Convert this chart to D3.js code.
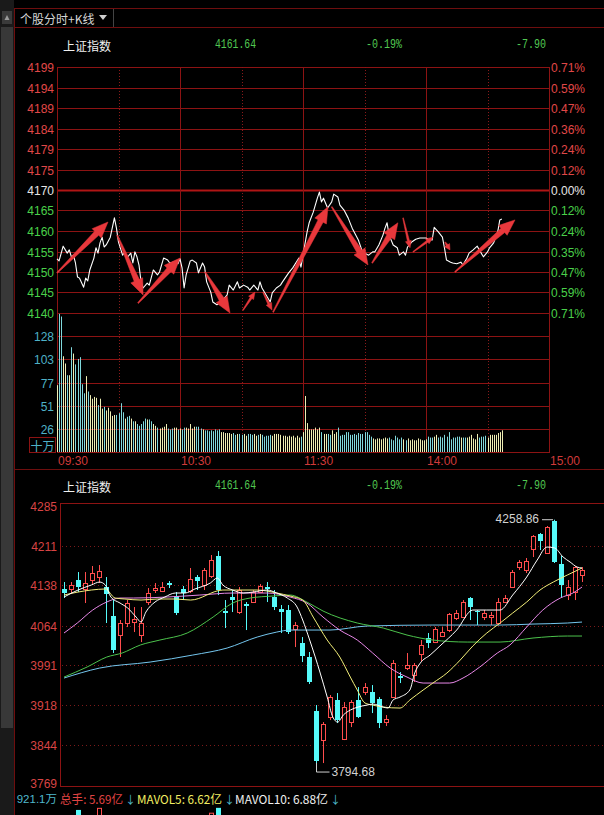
<!DOCTYPE html>
<html><head><meta charset="utf-8">
<script src="https://cdn.jsdelivr.net/npm/d3@7/dist/d3.min.js"></script>
<style>html,body{margin:0;padding:0;background:#000;overflow:hidden}text{font-family:"Liberation Sans",Arial,sans-serif}</style>
</head><body>
<svg id="c" width="604" height="815"></svg>
<script>
// ---------------- DATA ----------------
const indexName = "上证指数";
const headerValues = ["4161.64", "-0.19%", "-7.90"];
// intraday price samples (minutes after 09:30, trading minutes; 120 = 13:00)
const intradayMinutes = [0,1,3,5,6,7,8,9,10,11,13,14,15,16,18,19,20,21,22,23,24,26,28,29,30,32,33,34,36,37,38,39,40,41,42,44,45,47,49,50,52,54,55,57,59,60,61,62,63,65,66,68,69,71,72,73,75,76,78,80,81,83,84,86,88,89,91,93,94,96,98,99,100,102,104,105,107,109,110,113,115,118,119,120,122,123,125,127,128,129,130,132,134,135,137,138,140,142,144,147,149,152,154,155,157,159,160,161,162,164,166,167,169,170,171,173,175,177,180,181,183,184,186,188,189,190,192,193,195,197,198,200,201,203,205,206,208,210,211,213,215,216,217];
const intradayPrices = [4153.2,4152.7,4156.3,4154.6,4155.4,4153.7,4154.1,4152.2,4148.8,4148.5,4146.3,4148.5,4147.8,4150.5,4153.4,4155.9,4154.6,4157.1,4158.5,4156.1,4156.6,4158.5,4163.2,4160.7,4157.3,4154.1,4154.9,4153.4,4154.6,4152.2,4154.9,4153.7,4151.7,4147.6,4146.1,4147.3,4146.8,4150.5,4149.3,4150.0,4153.4,4152.9,4152.2,4152.4,4152.0,4153.2,4151.0,4146.1,4149.3,4152.7,4152.9,4152.2,4149.8,4152.2,4151.2,4147.6,4145.1,4142.7,4142.0,4142.7,4143.2,4144.4,4146.8,4145.6,4147.6,4146.1,4146.8,4146.3,4145.6,4146.8,4145.6,4147.6,4146.1,4144.4,4142.7,4144.9,4146.1,4146.8,4147.6,4149.8,4151.0,4153.4,4151.2,4154.1,4159.8,4162.0,4164.6,4168.0,4169.5,4167.1,4168.0,4165.6,4167.1,4169.0,4168.3,4166.3,4165.1,4163.2,4160.7,4157.8,4154.9,4154.1,4154.9,4154.9,4156.6,4159.0,4160.7,4162.0,4159.0,4156.6,4155.9,4154.1,4154.9,4154.1,4156.1,4157.3,4158.0,4158.3,4158.3,4158.0,4157.8,4160.9,4159.8,4158.5,4155.9,4152.9,4152.4,4152.2,4152.0,4152.4,4151.7,4153.4,4154.6,4155.4,4156.3,4155.4,4153.7,4154.9,4155.9,4157.1,4159.8,4162.7,4162.9];
// per-minute volume (十万)
const minuteVolumes = [74,153,150,106,98,85,85,116,109,97,103,105,75,65,84,67,63,59,61,60,52,59,48,50,46,49,45,40,41,41,43,54,44,37,39,40,37,34,34,31,29,31,34,37,36,36,34,31,29,27,26,27,28,31,26,25,26,27,27,25,26,25,27,27,26,31,26,28,28,28,26,25,24,24,23,24,23,25,24,25,22,22,21,21,21,20,21,19,20,20,19,20,18,20,20,19,20,18,19,20,19,17,18,18,19,18,20,20,20,19,18,18,17,18,17,18,16,18,16,17,
22,62,32,25,25,25,27,25,27,22,20,20,20,19,24,20,22,27,18,19,19,22,22,19,19,20,19,21,20,20,22,22,19,17,15,14,15,15,14,15,16,15,16,14,13,18,16,14,16,14,13,15,13,14,13,13,15,14,13,13,14,17,16,16,17,19,16,17,16,19,17,22,14,16,16,17,17,16,16,16,16,17,19,15,14,20,16,17,17,18,16,19,19,19,19,21,22,24];
// bottom-to-top price labels, top-to-bottom percent labels
const priceTickLabels = ["4140","4145","4150","4155","4160","4165","4170","4175","4179","4184","4189","4194","4199"];
const pctTickLabels = ["0.71%","0.59%","0.47%","0.36%","0.24%","0.12%","0.00%","0.12%","0.24%","0.35%","0.47%","0.59%","0.71%"];
const volTickLabels = ["26","51","77","103","128"];
const timeLabels = ["09:30","10:30","11:30","14:00","15:00"];
const timeMinutes = [0,60,120,180,240];
// hand-drawn arrows: [minute1, price1, minute2, price2]
const arrows = [[0,4149.8,24.9,4162.2],[29.3,4159.0,42,4144.4],[39.5,4142.4,60,4153.4],[72.2,4150.0,84.4,4140.0],[90.7,4140.7,96.6,4145.1],[100.5,4145.1,104.9,4140.7],[105.4,4140.2,132.2,4165.9],[134,4165.9,151.7,4151.7],[153.7,4152.2,166.3,4162.0],[168.8,4163.2,172.2,4155.9],[173.7,4154.9,183.4,4158.5],[189.3,4157.3,191.7,4155.4],[194.1,4150.0,223.4,4162.7]];

// daily K-line
const candleOpen  = [4131.4,4131.4,4147.9,4131.4,4147.9,4153.4,4135.0,4081.7,4046.7,4068.8,4070.6,4046.7,4107.4,4129.5,4127.7,4142.4,4118.5,4131.4,4127.7,4153.4,4138.7,4155.3,4192.1,4090.9,4116.6,4089.0,4103.8,4107.4,4125.8,4135.0,4116.6,4094.5,4092.7,4057.8,4032.0,4006.2,3906.9,3853.5,3895.8,3927.1,3855.4,3886.6,3927.1,3941.8,3941.8,3929.0,3886.6,3932.6,3971.3,3986.0,3973.1,4011.8,4041.2,4033.8,4044.9,4055.9,4078.0,4079.9,4114.8,4090.9,4079.9,4079.9,4068.8,4107.4,4135.0,4171.8,4166.3,4205.0,4232.6,4197.6,4257.0,4177.4,4120.3,4125.8,4157.1];
const candleHigh  = [4144.2,4144.2,4162.6,4162.6,4173.7,4175.5,4153.4,4111.1,4074.3,4111.1,4098.2,4098.2,4133.2,4142.4,4144.2,4146.1,4125.8,4136.9,4170.0,4157.1,4170.0,4193.9,4201.3,4111.1,4129.5,4135.0,4107.4,4129.5,4140.6,4144.2,4129.5,4101.9,4101.9,4070.6,4043.0,4015.5,3917.9,3886.6,3936.3,3940.0,3923.4,3927.1,3951.0,3958.4,3954.7,3932.6,3899.5,4000.7,3978.6,4013.6,3995.2,4037.5,4050.4,4061.4,4061.4,4087.2,4092.7,4111.1,4116.6,4092.7,4092.7,4089.0,4114.8,4120.3,4166.3,4184.7,4188.4,4230.7,4234.4,4247.3,4258.86,4192.1,4147.9,4173.7,4171.8];
const candleLow   = [4114.8,4124.0,4125.8,4105.6,4140.6,4142.4,4068.8,4013.6,4006.2,4061.4,4052.2,4033.8,4101.9,4124.0,4125.8,4133.2,4083.5,4111.1,4124.0,4129.5,4129.5,4151.6,4120.3,4059.6,4089.0,4085.4,4055.9,4105.6,4124.0,4107.4,4092.7,4050.4,4048.6,4024.6,3997.0,3956.6,3794.68,3811.2,3890.3,3884.8,3853.5,3877.4,3894.0,3936.3,3903.2,3875.6,3879.3,3930.8,3958.4,3982.3,3960.2,3997.0,4022.8,4032.0,4043.0,4052.2,4074.3,4078.0,4074.3,4065.1,4074.3,4065.1,4065.1,4105.6,4133.2,4166.3,4160.8,4190.2,4203.1,4195.8,4179.2,4116.6,4111.1,4111.1,4144.2];
const candleClose = [4124.0,4138.7,4135.0,4142.4,4160.8,4164.5,4122.2,4019.1,4068.8,4105.6,4076.2,4068.8,4124.0,4133.2,4135.0,4138.7,4087.2,4124.0,4149.7,4146.1,4166.3,4184.7,4129.5,4087.2,4111.1,4129.5,4100.1,4125.8,4136.9,4131.4,4098.2,4089.0,4052.2,4065.1,4008.0,3960.2,3814.9,3882.9,3932.6,3890.3,3914.2,3923.4,3895.8,3951.0,3921.6,3884.8,3892.1,3995.2,3967.6,3991.5,3991.5,4028.3,4032.0,4057.8,4052.2,4085.4,4087.2,4107.4,4098.2,4089.0,4087.2,4083.5,4107.4,4114.8,4162.6,4181.0,4182.8,4228.9,4219.7,4245.4,4181.0,4138.7,4135.0,4171.8,4166.0];
const kTickValues = [4285,4211,4138,4064,3991,3918,3844,3769];
// moving averages: [candle index, value]
const ma5  = [[0,4116.6],[2,4129.5],[3.9,4138.7],[5.1,4144.2],[5.9,4138.7],[6.7,4116.6],[8,4105.6],[9.1,4096.4],[10.3,4079.8],[11,4070.6],[11.7,4089.0],[13,4107.4],[14.4,4116.6],[15.9,4124.0],[17.3,4124.0],[18.7,4131.4],[20.9,4142.4],[21.9,4151.6],[22.7,4138.7],[24.1,4129.5],[25.6,4124.0],[27,4125.8],[29,4129.5],[30.4,4124.0],[31.9,4114.8],[33.3,4098.2],[34.1,4074.3],[35.1,4037.5],[36.6,3976.8],[37.6,3932.6],[38.4,3895.8],[39.1,3886.6],[39.9,3899.5],[40.9,3908.7],[42,3914.2],[43.3,3917.9],[44.1,3919.8],[45.6,3914.2],[46.3,3912.4],[47,3927.1],[48,3932.6],[49.4,3945.5],[50.1,3976.8],[50.9,3995.2],[52.3,4009.9],[53.7,4026.5],[56.1,4055.9],[58.4,4092.7],[60.4,4092.7],[62.3,4092.7],[64.1,4120.3],[66.1,4153.4],[67.6,4184.7],[69,4208.6],[70.1,4206.8],[71.3,4190.2],[72.3,4181.0],[73.3,4171.8],[74,4170.0]];
const ma10 = [[0,4120.3],[2,4125.8],[3.9,4129.5],[5.9,4131.4],[7.3,4114.8],[8.7,4113.0],[11,4111.1],[13.4,4113.0],[15.9,4113.0],[18.1,4111.1],[22.7,4129.5],[27.6,4129.5],[30.4,4124.0],[32.3,4118.5],[34.1,4111.1],[35.6,4079.8],[37.6,4037.5],[39.4,4006.2],[40.9,3969.4],[41.9,3945.5],[43,3921.6],[44.1,3917.9],[45.6,3914.2],[48,3912.4],[49.4,3927.1],[51.3,3945.5],[52.7,3958.4],[54.7,3976.8],[56.6,4000.7],[58.4,4026.5],[60.4,4050.4],[62.3,4068.8],[64.1,4087.2],[66.1,4107.4],[68,4129.5],[69.9,4144.2],[71.9,4157.1],[74,4170.0]];
const ma20 = [[0,4050.4],[1.9,4068.8],[4.1,4092.7],[6.1,4107.4],[8,4114.8],[9.9,4114.8],[14.7,4116.6],[19.4,4120.3],[24.1,4124.0],[29,4124.0],[32.3,4116.6],[34.7,4105.6],[37,4079.8],[39.4,4055.9],[41.9,4037.5],[44.1,4013.6],[46.6,3986.0],[49,3969.4],[51.3,3958.4],[55.1,3958.4],[57,3967.6],[59.4,3987.9],[61.9,4013.6],[63.7,4028.3],[66.1,4061.4],[68.4,4092.7],[70.9,4114.8],[72.7,4124.0],[74,4135.0]];
const ma30 = [[0,3969.4],[3.3,3987.9],[6.1,4006.2],[8.3,4013.6],[10.9,4028.3],[13.7,4037.5],[17.6,4050.4],[21.3,4079.8],[24.1,4105.6],[26.6,4114.8],[29.9,4118.5],[32.3,4120.3],[34.7,4107.4],[37,4090.9],[41.9,4068.8],[45.6,4059.6],[49,4046.7],[52.7,4037.5],[57.6,4033.8],[62.3,4033.8],[67,4041.2],[71.9,4044.9],[74,4044.9]];
const ma60 = [[0,3967.6],[5.1,3986.0],[12.3,3997.0],[18.4,4009.9],[23.3,4022.8],[27.6,4043.0],[30.4,4052.2],[32.3,4055.9],[38,4055.9],[43.3,4063.3],[52.7,4065.1],[62.3,4065.1],[67,4066.9],[71.9,4068.8],[74,4070.6]];
const highLabel = "4258.86", lowLabel = "3794.68";
// tops of the K-line volume bars that show at the bottom edge: [candle index, 亿]
const kVolumeVisible = [[2,13.0],[5,13.3],[21,12.6],[22,13.3]];
const footerTexts = ["921.1万","总手: 5.69亿","MAVOL5: 6.62亿","MAVOL10: 6.88亿"];

// ---------------- DRAW ----------------
const svg = d3.select('#c');
const W = 604, H = 815;
const COL = {grid:'#8c1313', dot:'#8a1a1a', red:'#e04848', green:'#4ad04a', white:'#e6e6e6',
  cyan:'#4fb2c8', up:'#ff4d4d', down:'#56fafa', frame:'#6e0e0e'};
const cjk = '"Noto Sans CJK SC",sans-serif';

svg.append('rect').attr('width',W).attr('height',H).attr('fill','#000');
// sidebar
svg.append('rect').attr('x',0).attr('y',0).attr('width',14).attr('height',H).attr('fill','#1a1a1a');
svg.append('rect').attr('x',1).attr('y',27).attr('width',12).attr('height',701).attr('fill','#383838');
svg.append('rect').attr('x',2).attr('y',11).attr('width',10).attr('height',13).attr('fill','#3a3a3a');
svg.append('path').attr('d','M4.5,20 L7,15 L9.5,20 Z').attr('fill','#9a9a9a');
svg.append('line').attr('x1',14.5).attr('x2',14.5).attr('y1',8).attr('y2',H).attr('stroke',COL.frame);
// tab header
svg.append('line').attr('x1',14).attr('x2',W).attr('y1',8.5).attr('y2',8.5).attr('stroke',COL.frame);
svg.append('line').attr('x1',14).attr('x2',W).attr('y1',27.5).attr('y2',27.5).attr('stroke',COL.frame);
svg.append('line').attr('x1',113.5).attr('x2',113.5).attr('y1',9).attr('y2',27).attr('stroke','#444');
svg.append('text').attr('x',20).attr('y',18).attr('dominant-baseline','central').attr('fill','#d6d6d6')
  .style('font-family',cjk).style('font-size','12px').text('个股分时+K线');
svg.append('path').attr('d','M99,15 L107,15 L103,20 Z').attr('fill','#cfcfcf');

function titleRow(y){
  svg.append('text').attr('x',63).attr('y',y).attr('dominant-baseline','central').attr('fill','#f0f0f0')
    .style('font-family',cjk).style('font-size','12px').text(indexName);
  const xs=[215,366,516], ws=[41,36,30];
  headerValues.forEach((v,i)=>{
    svg.append('text').attr('x',xs[i]).attr('y',y).attr('dominant-baseline','central').attr('fill','#52c852')
      .style('font-family','"Liberation Mono",monospace').style('font-size','12px')
      .attr('textLength',ws[i]).attr('lengthAdjust','spacingAndGlyphs').text(v);
  });
}
titleRow(45);

// ---- intraday ----
const xT = d3.scaleLinear().domain([0,240]).range([57,549]);
const yT = d3.scaleLinear().domain([4140,4200]).range([313,67]);
const yV = d3.scaleLinear().domain([0,153.9]).range([452,313]);
const gT = svg.append('g');
priceTickLabels.forEach((lab,k)=>{
  const v = 4140+5*k, y = Math.round(yT(v));
  const mid = k===6;
  gT.append('line').attr('x1',57).attr('x2',549).attr('y1',y+0.5).attr('y2',y+0.5)
    .attr('stroke', mid?'#b01515':COL.grid).attr('stroke-width', mid?2:1);
  const c = k>6?COL.red:(k<6?COL.green:COL.white);
  gT.append('text').attr('x',54).attr('y',y+1).attr('text-anchor','end').attr('dominant-baseline','central')
    .attr('fill',c).style('font-size','12px').text(lab);
  gT.append('text').attr('x',551).attr('y',y+1).attr('dominant-baseline','central')
    .attr('fill',c).style('font-size','12px').text(pctTickLabels[12-k]);
});
volTickLabels.forEach((lab,k)=>{
  const y = Math.round(yV(25.65*(k+1)));
  gT.append('line').attr('x1',57).attr('x2',549).attr('y1',y+0.5).attr('y2',y+0.5).attr('stroke',COL.grid);
  gT.append('text').attr('x',54).attr('y',y+1).attr('text-anchor','end').attr('dominant-baseline','central')
    .attr('fill',COL.cyan).style('font-size','12px').text(lab);
});
gT.append('line').attr('x1',57).attr('x2',549).attr('y1',452.5).attr('y2',452.5).attr('stroke',COL.grid);
gT.append('rect').attr('x',29.5).attr('y',437.5).attr('width',26).attr('height',15).attr('fill','none').attr('stroke',COL.grid);
gT.append('text').attr('x',42.5).attr('y',445.5).attr('text-anchor','middle').attr('dominant-baseline','central')
  .attr('fill',COL.cyan).style('font-family',cjk).style('font-size','12px').text('十万');
timeMinutes.forEach((m,i)=>{
  const x = Math.round(xT(m));
  gT.append('line').attr('x1',x+0.5).attr('x2',x+0.5).attr('y1',67).attr('y2',453).attr('stroke',COL.grid);
  gT.append('text').attr('x',x+1).attr('y',461).attr('dominant-baseline','central')
    .attr('fill','#d03a3a').style('font-size','12px').text(timeLabels[i]);
  if(i<4){
    const xd = Math.round(xT(m+30));
    gT.append('line').attr('x1',xd+0.5).attr('x2',xd+0.5).attr('y1',67).attr('y2',452)
      .attr('stroke',COL.dot).attr('stroke-dasharray','1,2');
  }
});
// volume bars
minuteVolumes.forEach((v,m)=>{
  const i = d3.bisectRight(intradayMinutes, m) - 1;
  const up = i<=0 || intradayPrices[i] >= intradayPrices[i-1];
  const x = Math.round(xT(m));
  gT.append('rect').attr('x',x).attr('width',1).attr('y',yV(v)).attr('height',452-yV(v))
    .attr('fill', up?'#eeeeb4':'#80d8dc');
});
// price line
gT.append('path').datum(intradayMinutes.map((m,i)=>[m,intradayPrices[i]]))
  .attr('d', d3.line().x(d=>xT(d[0])).y(d=>yT(d[1])))
  .attr('fill','none').attr('stroke','#ffffff').attr('stroke-width',1.1).attr('stroke-linejoin','round');
// arrows
function arrowPath(x1,y1,x2,y2){
  const dx=x2-x1, dy=y2-y1, L=Math.hypot(dx,dy);
  const ux=dx/L, uy=dy/L, nx=-uy, ny=ux;
  const big = L>40;
  const h = big?16:Math.min(7,L*0.6), hw = big?6.5:3, sw = big?2.8:1.1, tw = big?0.5:0.4;
  const bx=x2-ux*h, by=y2-uy*h;
  const pts=[[x1+nx*tw,y1+ny*tw],[bx+nx*sw,by+ny*sw],[bx+nx*hw,by+ny*hw],[x2,y2],[bx-nx*hw,by-ny*hw],[bx-nx*sw,by-ny*sw],[x1-nx*tw,y1-ny*tw]];
  return 'M'+pts.map(p=>p[0].toFixed(1)+','+p[1].toFixed(1)).join('L')+'Z';
}
arrows.forEach(a=>{
  gT.append('path').attr('d', arrowPath(xT(a[0]),yT(a[1]),xT(a[2]),yT(a[3])))
    .attr('fill','#e8383c').attr('stroke','#e8383c').attr('stroke-width',0.5).attr('stroke-linejoin','round');
});

// panel separator
svg.append('line').attr('x1',14).attr('x2',W).attr('y1',469.5).attr('y2',469.5).attr('stroke',COL.frame);

// ---- K-line ----
titleRow(486);
const xK = d3.scaleLinear().domain([0,74]).range([64,582]);
const yK = d3.scaleLinear().domain([3769,4285]).range([786,505.5]);
const gK = svg.append('g');
gK.append('line').attr('x1',60).attr('x2',W).attr('y1',503.5).attr('y2',503.5).attr('stroke','#8c1313');
gK.append('line').attr('x1',60.5).attr('x2',60.5).attr('y1',503).attr('y2',787).attr('stroke','#8c1313');
gK.append('line').attr('x1',60).attr('x2',W).attr('y1',786.5).attr('y2',786.5).attr('stroke','#8c1313');
kTickValues.forEach((v,i)=>{
  const y = Math.round(yK(v));
  const last = i===kTickValues.length-1;
  if(i>0 && !last)
    gK.append('line').attr('x1',62).attr('x2',W).attr('y1',y+0.5).attr('y2',y+0.5)
      .attr('stroke','#7c1a1a').attr('stroke-dasharray','1,3');
  gK.append('text').attr('x',57).attr('y',last?y-2:y+1).attr('text-anchor','end').attr('dominant-baseline','central')
    .attr('fill','#d84444').style('font-size','12px').text(String(v));
});
// candles
candleOpen.forEach((o,i)=>{
  const c = candleClose[i], h = candleHigh[i], l = candleLow[i];
  const cx = Math.round(xK(i));
  const up = c >= o;
  const top = Math.round(yK(Math.max(o,c))), bot = Math.round(yK(Math.min(o,c)));
  const col = up?COL.up:COL.down;
  if(up){
    gK.append('line').attr('x1',cx+0.5).attr('x2',cx+0.5).attr('y1',yK(h)).attr('y2',top).attr('stroke',col);
    gK.append('line').attr('x1',cx+0.5).attr('x2',cx+0.5).attr('y1',Math.max(bot,top+1)).attr('y2',yK(l)).attr('stroke',col);
    gK.append('rect').attr('x',cx-1.5).attr('y',top+0.5).attr('width',4).attr('height',Math.max(bot-top,1))
      .attr('fill','#000').attr('stroke',col);
  } else {
    gK.append('line').attr('x1',cx+0.5).attr('x2',cx+0.5).attr('y1',yK(h)).attr('y2',yK(l)).attr('stroke',col);
    gK.append('rect').attr('x',cx-2).attr('y',top).attr('width',5).attr('height',Math.max(bot-top,1)).attr('fill',col);
  }
});
// moving averages
const maLine = d3.line().x(d=>xK(d[0])).y(d=>yK(d[1])).curve(d3.curveMonotoneX);
[[ma60,'#74c6ee'],[ma30,'#4cc24c'],[ma20,'#e888e8'],[ma10,'#f4f07a'],[ma5,'#ffffff']].forEach(([d,c])=>{
  gK.append('path').datum(d).attr('d',maLine).attr('fill','none').attr('stroke',c).attr('stroke-width',1);
});
// high/low markers
const hi = d3.maxIndex(candleHigh), lo = d3.minIndex(candleLow);
const hx = xK(hi), hy = yK(candleHigh[hi]);
gK.append('line').attr('x1',hx-12).attr('x2',hx-1).attr('y1',hy).attr('y2',hy).attr('stroke','#cfcfcf');
gK.append('text').attr('x',hx-15).attr('y',hy-1).attr('text-anchor','end').attr('dominant-baseline','central')
  .attr('fill','#d2d2d2').style('font-size','12px').text(highLabel);
const lx = Math.round(xK(lo))+0.5, ly = yK(candleLow[lo]);
gK.append('path').attr('d',`M${lx},${ly-9}L${lx},${ly}L${lx+13},${ly}`).attr('fill','none').attr('stroke','#cfcfcf');
gK.append('text').attr('x',lx+15).attr('y',ly).attr('dominant-baseline','central')
  .attr('fill','#d2d2d2').style('font-size','12px').text(lowLabel);

// footer
const fy = 798;
svg.append('text').attr('x',57).attr('y',fy+1).attr('text-anchor','end').attr('dominant-baseline','central')
  .attr('fill','#4fb8cc').style('font-family','"Liberation Sans","Noto Sans CJK SC",sans-serif').style('font-size','11.5px').text(footerTexts[0]);
const fx=[60,137,235], fw=[63,85,93], fc=['#e04444','#f2ee62','#f0f0f0'];
footerTexts.slice(1).forEach((t,i)=>{
  svg.append('text').attr('x',fx[i]).attr('y',fy).attr('dominant-baseline','central').attr('fill',fc[i])
    .style('font-family',cjk).style('font-size','12px').attr('textLength',fw[i]).attr('lengthAdjust','spacingAndGlyphs').text(t);
  svg.append('text').attr('x',fx[i]+fw[i]+2).attr('y',fy+1).attr('dominant-baseline','central').attr('fill','#4fb8cc')
    .style('font-family',cjk).style('font-size','11px').text('↓');
});
// K volume bar tops peeking at the bottom
const yKV = d3.scaleLinear().domain([0,14]).range([900,803]);
kVolumeVisible.forEach(([i,v])=>{
  const cx = Math.round(xK(i)), up = candleClose[i]>=candleOpen[i];
  if(up) svg.append('rect').attr('x',cx-1.5).attr('y',yKV(v)+0.5).attr('width',4).attr('height',30).attr('fill','none').attr('stroke',COL.up);
  else svg.append('rect').attr('x',cx-2).attr('y',yKV(v)).attr('width',5).attr('height',30).attr('fill',COL.down);
});
</script>
</body></html>
